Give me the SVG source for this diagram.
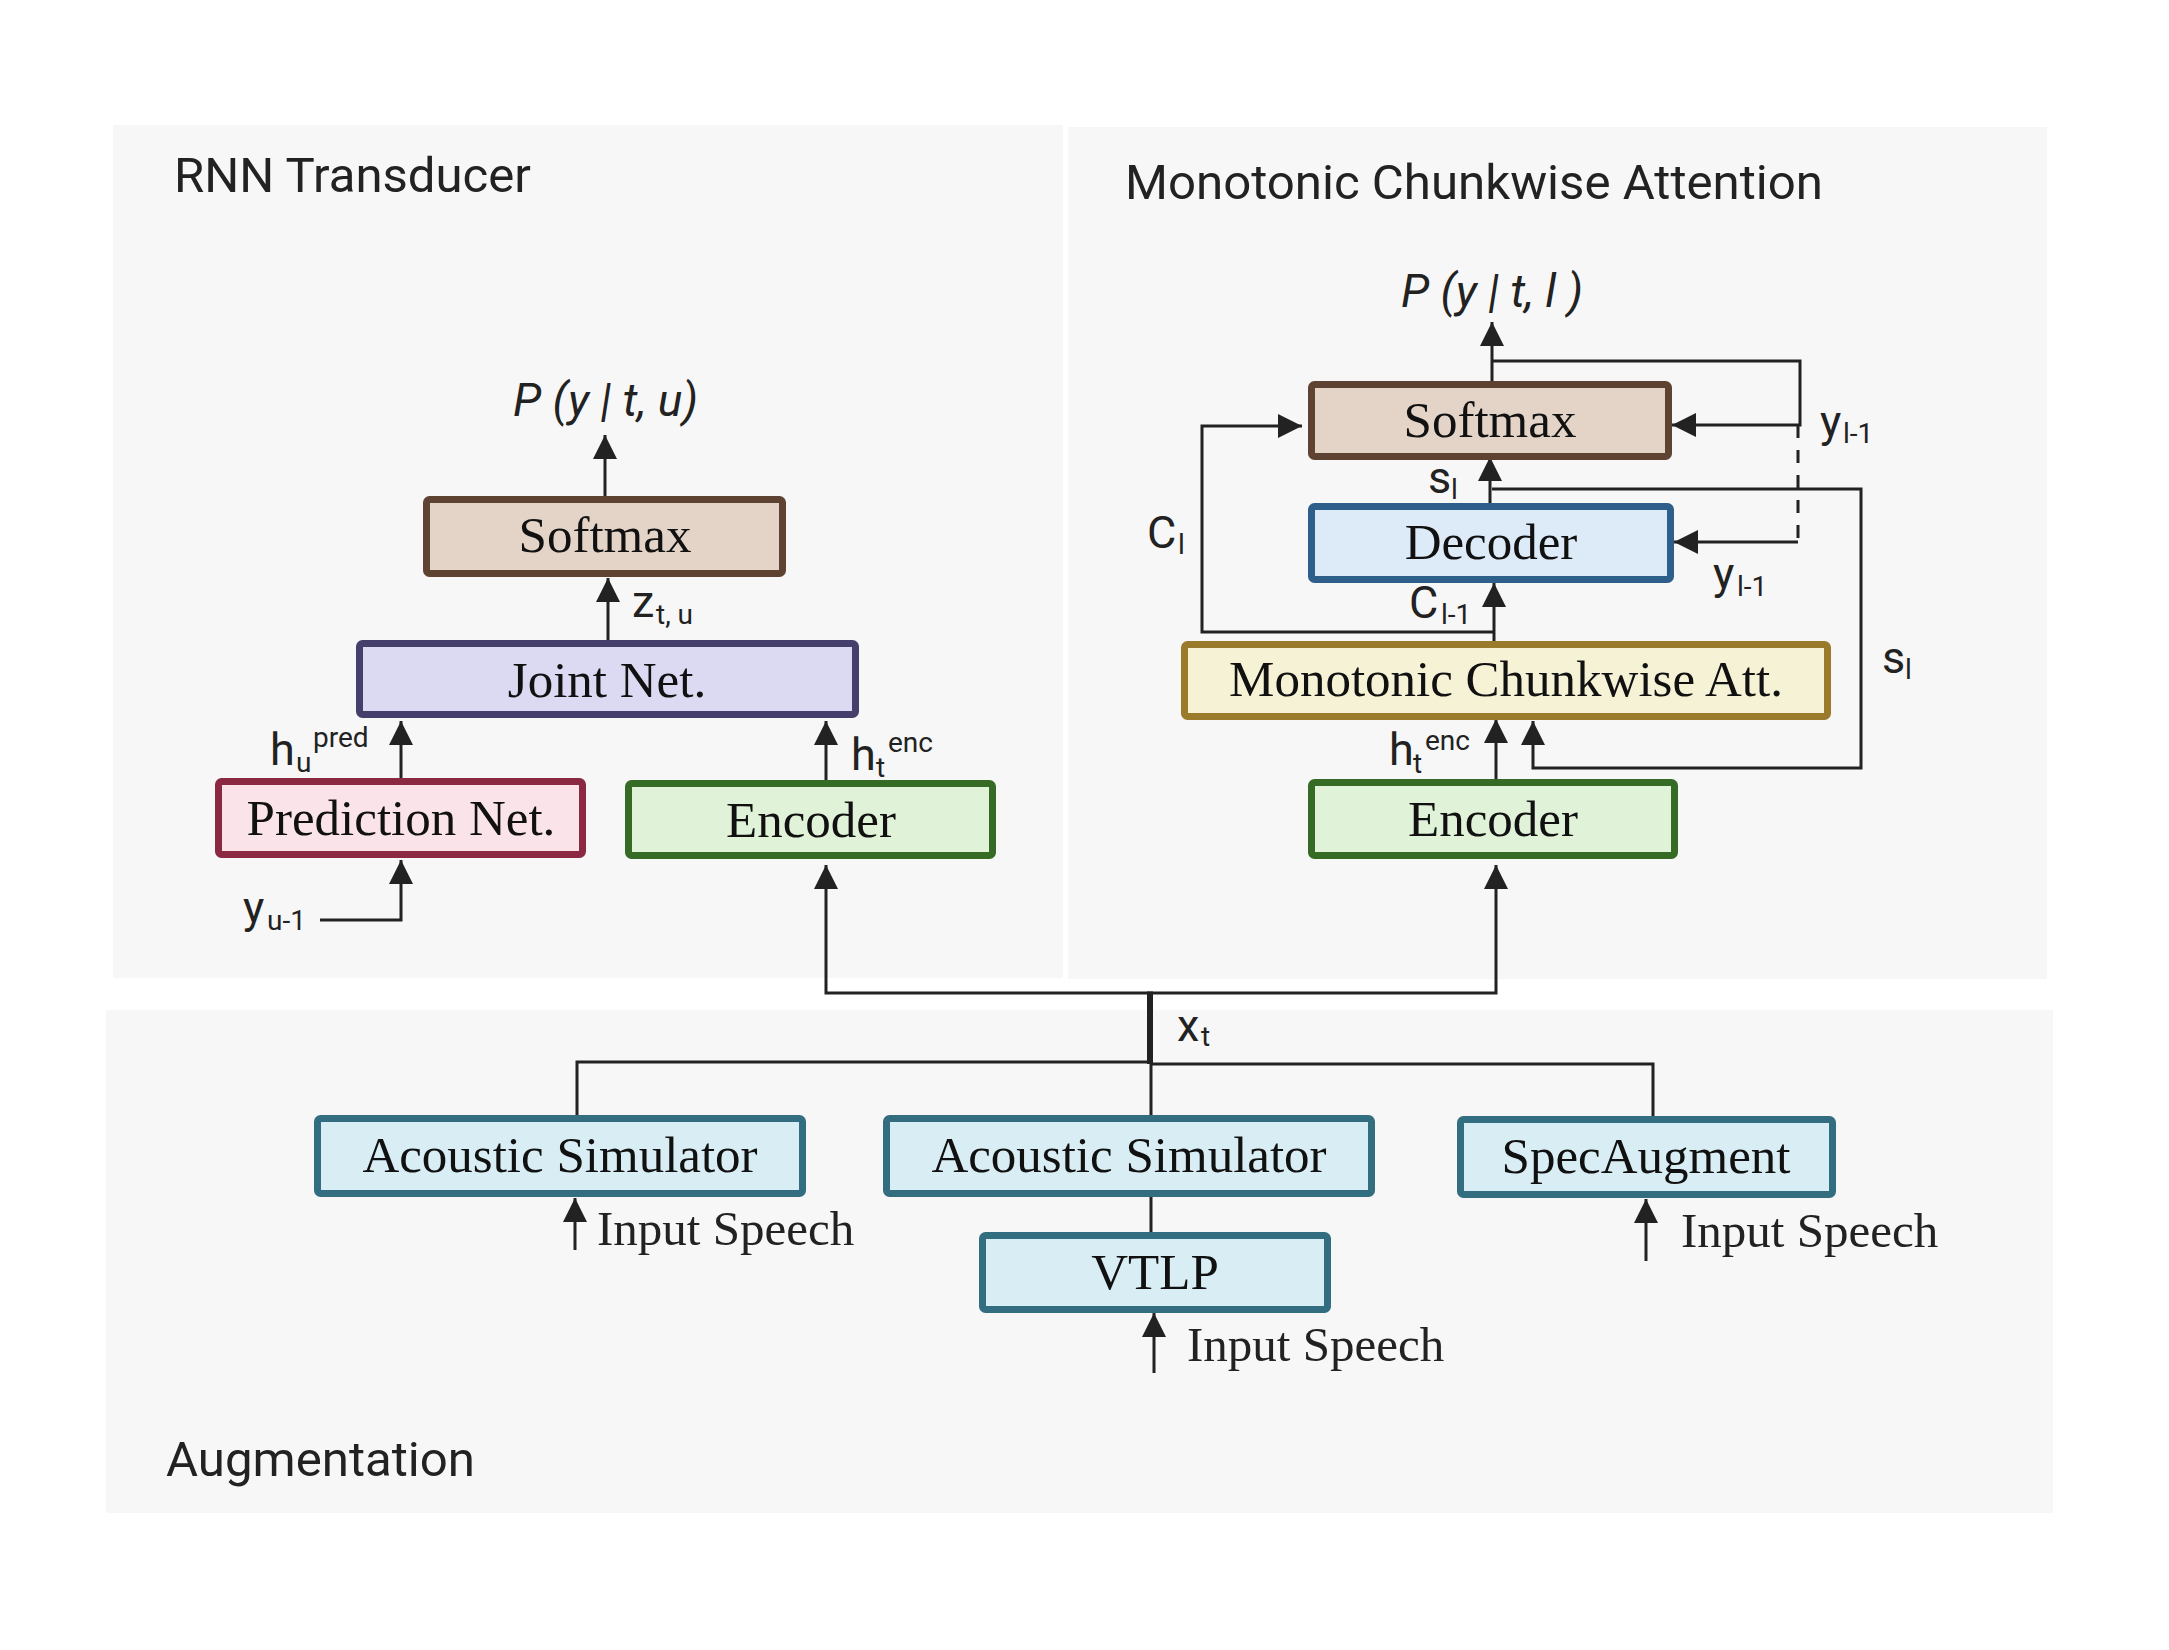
<svg xmlns="http://www.w3.org/2000/svg" width="2169" height="1650" viewBox="0 0 2169 1650">
<style>
.panel{fill:#f7f7f7}
.title{font-family:Roboto,"Liberation Sans",sans-serif;font-size:49px;fill:#222}
.node text{font-family:"Liberation Serif","Times New Roman",serif;font-size:51px;fill:#111;text-anchor:middle}
.box{stroke-width:7}
.lbl{font-family:Roboto,"Liberation Sans",sans-serif;font-size:45px;fill:#222}
.sub{font-size:28px}
.prob{font-family:Roboto,"Liberation Sans",sans-serif;font-size:46px;font-style:italic;fill:#222}
.speech{font-family:"Liberation Serif","Times New Roman",serif;font-size:49px;fill:#222}
.c{fill:none;stroke:#222;stroke-width:3}
.a{marker-end:url(#arr)}
.soft{fill:#e3d4c7;stroke:#5e4232}
.joint{fill:#dcd9f2;stroke:#453f6b}
.pred{fill:#fbe3ea;stroke:#8b2942}
.enc{fill:#e0f3d9;stroke:#356b24}
.dec{fill:#ddeaf8;stroke:#2e5f8a}
.mca{fill:#f5f2d6;stroke:#9a7b2c}
.aug{fill:#d9eef4;stroke:#336e80}
</style>
<defs>
<marker id="arr" markerUnits="userSpaceOnUse" markerWidth="24" markerHeight="24" refX="24" refY="12" orient="auto">
<path d="M0,0 L24,12 L0,24 z" fill="#222"/>
</marker>
</defs>
<rect width="2169" height="1650" fill="#fff"/>
<g id="panels">
<rect class="panel" x="113" y="125" width="950" height="853"/>
<rect class="panel" x="1068" y="127" width="979" height="852"/>
<rect class="panel" x="106" y="1010" width="1947" height="503"/>
<text class="title" x="174" y="192" textLength="357" lengthAdjust="spacingAndGlyphs">RNN Transducer</text>
<text class="title" x="1125" y="199" textLength="698" lengthAdjust="spacingAndGlyphs">Monotonic Chunkwise Attention</text>
<text class="title" x="166" y="1476" textLength="309" lengthAdjust="spacingAndGlyphs">Augmentation</text>
</g>
<g id="connectors">
<path class="c a" d="M605,496 L605,435"/>
<path class="c a" d="M608,640 L608,578"/>
<path class="c a" d="M401,778 L401,721"/>
<path class="c a" d="M826,780 L826,721"/>
<path class="c a" d="M320,920 L401,920 L401,860"/>
<path class="c a" d="M1150,993 L826,993 L826,865"/>
<path class="c a" d="M1150,993 L1496,993 L1496,865"/>
<path class="c" d="M1150,991.5 L1150,1064" style="stroke-width:6"/>
<path class="c" d="M577,1115 L577,1062 L1150,1062"/>
<path class="c" d="M1150,1064 L1653,1064 L1653,1116"/>
<path class="c" d="M1151,1064 L1151,1115"/>
<path class="c" d="M1151,1197 L1151,1232"/>
<path class="c a" d="M575,1250 L575,1198"/>
<path class="c a" d="M1154,1373 L1154,1313"/>
<path class="c a" d="M1646,1261 L1646,1199"/>
<path class="c a" d="M1492,381 L1492,322"/>
<path class="c a" d="M1492,361 L1800,361 L1800,425 L1672,425"/>
<path class="c" d="M1798,425 L1798,542" stroke-dasharray="13 12"/>
<path class="c a" d="M1798,542 L1674,542"/>
<path class="c a" d="M1490,503 L1490,457"/>
<path class="c a" d="M1492,489 L1861,489 L1861,768 L1533,768 L1533,721"/>
<path class="c a" d="M1495,632 L1202,632 L1202,426 L1302,426"/>
<path class="c a" d="M1494,641 L1494,583"/>
<path class="c a" d="M1496,779 L1496,719"/>
</g>
<g id="labels">
<text class="prob" x="513" y="416" textLength="185" lengthAdjust="spacing">P (y | t, u)</text>
<text class="prob" x="1401" y="307" textLength="182" lengthAdjust="spacing">P (y | t, l )</text>
<text class="lbl" x="632" y="617">z<tspan class="sub" x="656" y="624">t, u</tspan></text>
<text class="lbl" x="270" y="765">h<tspan class="sub" x="296" y="772">u</tspan><tspan class="sub" x="313" y="747">pred</tspan></text>
<text class="lbl" x="851" y="770">h<tspan class="sub" x="876" y="777">t</tspan><tspan class="sub" x="888" y="752">enc</tspan></text>
<text class="lbl" x="243" y="923">y<tspan class="sub" x="267" y="930">u-1</tspan></text>
<text class="lbl" x="1820" y="437">y<tspan class="sub" x="1843" y="443">l-1</tspan></text>
<text class="lbl" x="1713" y="589">y<tspan class="sub" x="1737" y="596">l-1</tspan></text>
<text class="lbl" x="1428" y="493">s<tspan class="sub" x="1451" y="499">l</tspan></text>
<text class="lbl" x="1147" y="548">C<tspan class="sub" x="1178" y="554">l</tspan></text>
<text class="lbl" x="1409" y="618">C<tspan class="sub" x="1441" y="624">l-1</tspan></text>
<text class="lbl" x="1882" y="673">s<tspan class="sub" x="1905" y="679">l</tspan></text>
<text class="lbl" x="1389" y="765">h<tspan class="sub" x="1413" y="773">t</tspan><tspan class="sub" x="1425" y="750">enc</tspan></text>
<text class="lbl" x="1177" y="1041">x<tspan class="sub" x="1201" y="1046">t</tspan></text>
<text class="speech" x="597" y="1245">Input Speech</text>
<text class="speech" x="1187" y="1361">Input Speech</text>
<text class="speech" x="1681" y="1247">Input Speech</text>
</g>
<g id="softmax-rnnt" class="node"><rect class="box soft" x="426.5" y="499.5" width="356" height="74" rx="3"/><text x="605" y="552">Softmax</text></g>
<g id="joint-net" class="node"><rect class="box joint" x="359.5" y="643.5" width="496" height="71" rx="3"/><text x="607" y="697">Joint Net.</text></g>
<g id="prediction-net" class="node"><rect class="box pred" x="218.5" y="781.5" width="364" height="73" rx="3"/><text x="401" y="835">Prediction Net.</text></g>
<g id="encoder-rnnt" class="node"><rect class="box enc" x="628.5" y="783.5" width="364" height="72" rx="3"/><text x="811" y="837">Encoder</text></g>
<g id="softmax-mocha" class="node"><rect class="box soft" x="1311.5" y="384.5" width="357" height="72" rx="3"/><text x="1490" y="437">Softmax</text></g>
<g id="decoder" class="node"><rect class="box dec" x="1311.5" y="506.5" width="359" height="73" rx="3"/><text x="1491" y="559">Decoder</text></g>
<g id="mocha-att" class="node"><rect class="box mca" x="1184.5" y="644.5" width="643" height="72" rx="3"/><text x="1506" y="696">Monotonic Chunkwise Att.</text></g>
<g id="encoder-mocha" class="node"><rect class="box enc" x="1311.5" y="782.5" width="363" height="73" rx="3"/><text x="1493" y="836">Encoder</text></g>
<g id="acoustic-sim-1" class="node"><rect class="box aug" x="317.5" y="1118.5" width="485" height="75" rx="3"/><text x="560" y="1172">Acoustic Simulator</text></g>
<g id="acoustic-sim-2" class="node"><rect class="box aug" x="886.5" y="1118.5" width="485" height="75" rx="3"/><text x="1129" y="1172">Acoustic Simulator</text></g>
<g id="vtlp" class="node"><rect class="box aug" x="982.5" y="1235.5" width="345" height="74" rx="3"/><text x="1155" y="1289">VTLP</text></g>
<g id="specaugment" class="node"><rect class="box aug" x="1460.5" y="1119.5" width="372" height="75" rx="3"/><text x="1646" y="1173">SpecAugment</text></g>
</svg>
